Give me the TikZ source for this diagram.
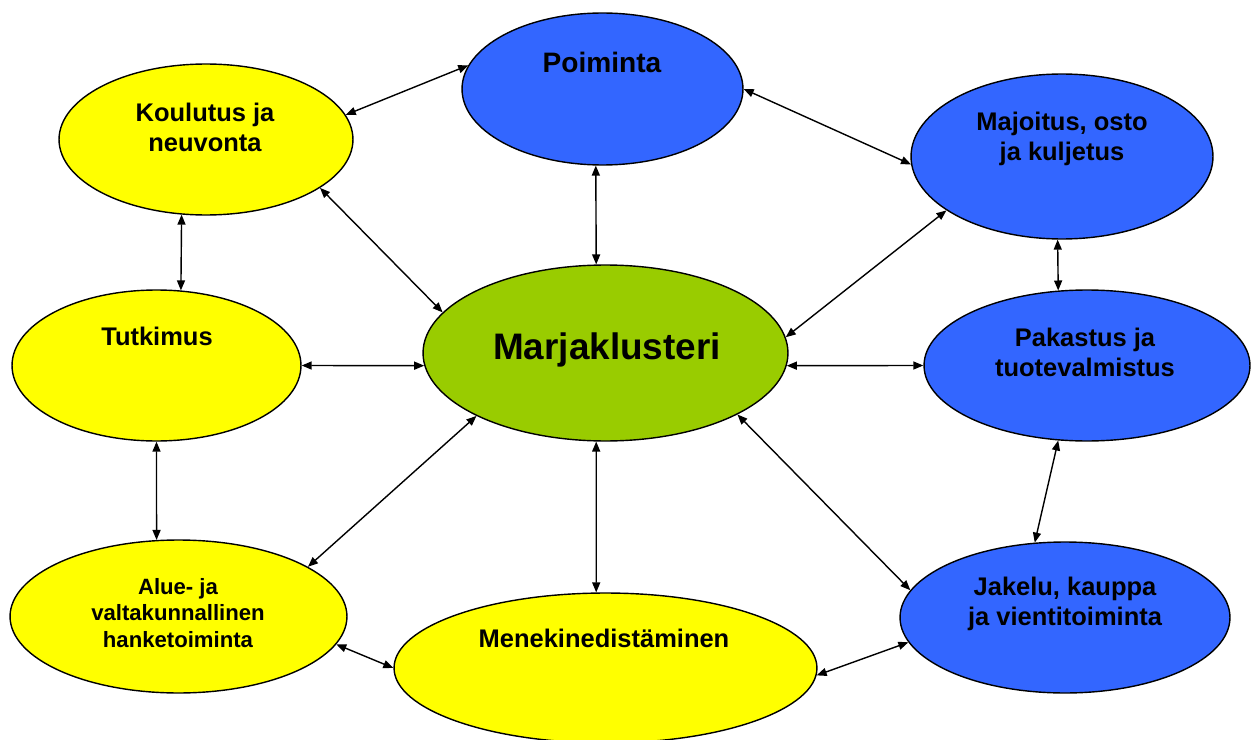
\documentclass[tikz,border=0pt]{standalone}
\usepackage{fontspec}
\setmainfont{Liberation Sans}
\usetikzlibrary{arrows.meta,shapes.geometric}
\definecolor{berryyellow}{HTML}{FFFF00}
\definecolor{berryblue}{HTML}{3366FF}
\definecolor{berrygreen}{HTML}{99CC00}
\tikzset{
  bubble/.style={ellipse,draw,line width=0.8pt,inner sep=0},
  ybub/.style={bubble,fill=berryyellow},
  bbub/.style={bubble,fill=berryblue},
  gbub/.style={bubble,fill=berrygreen},
  lab/.style={font=\fontsize{14.5}{17}\selectfont\bfseries,align=center},
  smalllab/.style={font=\fontsize{12.6}{15}\selectfont\bfseries,align=center},
  toplab/.style={font=\fontsize{16}{19}\selectfont\bfseries},
  biglab/.style={font=\fontsize{21}{25}\selectfont\bfseries},
  % every link is a plain line with a filled head at both ends
  link/.style={{Triangle[length=2mm,width=1.6mm]}-{Triangle[length=2mm,width=1.6mm]},line width=0.8pt},
}

\begin{document}
\begin{tikzpicture}[x=0.02cm,y=-0.02cm]
  \useasboundingbox (0,0) rectangle (1251,740);
  % the bubbles, placed in pixels of the slide
  \node[gbub,minimum width=7.30cm,minimum height=3.52cm] (marja) at (605.5,353) {};
  \node[bbub,minimum width=5.62cm,minimum height=3.04cm] (poim) at (602.5,89) {};
  \node[ybub,minimum width=5.88cm,minimum height=3.02cm] (koul) at (206,139.5) {};
  \node[bbub,minimum width=6.04cm,minimum height=3.30cm] (majo) at (1062,156.5) {};
  \node[ybub,minimum width=5.78cm,minimum height=3.02cm] (tutk) at (156.5,365.5) {};
  \node[bbub,minimum width=6.52cm,minimum height=3.02cm] (paka) at (1087,365.5) {};
  \node[ybub,minimum width=6.74cm,minimum height=3.06cm] (alue) at (178.5,616.5) {};
  \node[ybub,minimum width=8.46cm,minimum height=3.00cm] (mene) at (605.5,668) {};
  \node[bbub,minimum width=6.60cm,minimum height=3.02cm] (jake) at (1065,617.5) {};
  % texts sit a little above the middle of their bubble
  \node[biglab] (tmarja) at (607,350) {Marjaklusteri};
  \node[toplab] (tpoim) at (602,62) {Poiminta};
  \node[lab] (tkoul) at (205,127) {Koulutus ja\\neuvonta};
  \node[lab] (tmajo) at (1062,139) {Majoitus, osto\\ja kuljetus};
  \node[lab] (ttutk) at (157,336) {Tutkimus};
  \node[lab] (tpaka) at (1085,352) {Pakastus ja\\tuotevalmistus};
  \node[smalllab] (talue) at (178,613) {Alue- ja\\valtakunnallinen\\hanketoiminta};
  \node[lab] (tmene) at (604,638) {Menekinedistäminen};
  \node[lab] (tjake) at (1065,604) {Jakelu, kauppa\\ja vientitoiminta};
  % links
  \draw[link] (koul.10) -- (poim.170);
  \draw[link] (koul.337) -- (marja.166);
  \draw[link] (koul.252) -- (tutk.72);
  \draw[link] (poim.265) -- (marja.96);
  \draw[link] (tutk.0) -- (marja.184);
  \draw[link] (poim.0) -- (majo.183);
  \draw[link] (marja.5) -- (majo.205);
  \draw[link] (majo.267) -- (paka.111);
  \draw[link] (marja.356) -- (paka.180);
  \draw[link] (marja.335) -- (jake.170);
  \draw[link] (paka.249) -- (jake.112);
  \draw[link] (mene.358) -- (jake.189);
  \draw[link] (tutk.270) -- (alue.106);
  \draw[link] (marja.206) -- (alue.21);
  \draw[link] (marja.264) -- (mene.97);
  \draw[link] (alue.350) -- (mene.180);
\end{tikzpicture}
\end{document}
